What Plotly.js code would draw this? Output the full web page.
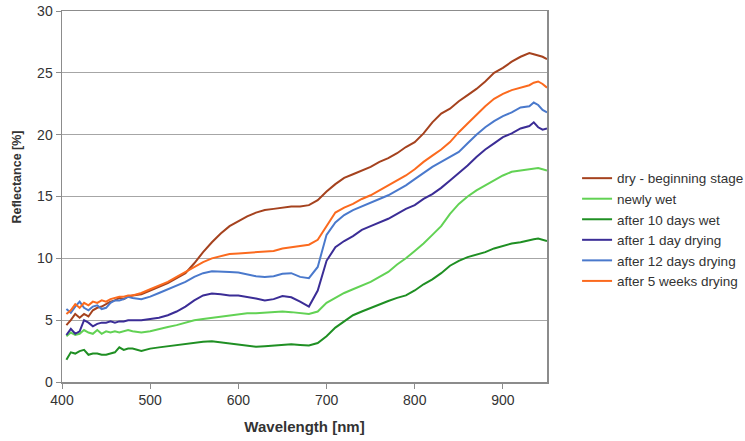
<!DOCTYPE html>
<html>
<head>
<meta charset="utf-8">
<script src="https://cdn.plot.ly/plotly-3.0.1.min.js"></script>
<style>html,body{margin:0;padding:0;background:#fff;}#chart{width:745px;height:441px;}</style>
</head>
<body>
<div id="chart"></div>
<script>
const wavelength = [405,410,415,420,425,430,435,440,445,450,455,460,465,470,475,
  480,490,500,510,520,530,540,550,560,570,580,590,600,610,620,630,640,650,660,670,680,690,
  700,710,720,730,740,750,760,770,780,790,800,810,820,830,840,850,860,870,880,890,900,910,920,930,
  935,940,945,950];

const dryBeginning = [4.6,5.0,5.5,5.2,5.5,5.3,5.8,6.0,6.1,6.3,6.5,6.6,6.8,6.7,6.9,
  7.0,7.1,7.4,7.7,8.0,8.4,8.8,9.6,10.5,11.3,12.0,12.6,13.0,13.4,13.7,13.9,14.0,14.1,14.2,14.2,14.3,14.7,
  15.4,16.0,16.5,16.8,17.1,17.4,17.8,18.1,18.5,19.0,19.4,20.1,21.0,21.7,22.1,22.7,23.2,23.7,24.3,25.0,25.4,25.9,26.3,26.6,
  26.5,26.4,26.3,26.1];

const newlyWet = [3.7,4.0,3.8,3.9,4.2,4.0,3.9,4.2,3.9,4.1,4.0,4.1,4.0,4.1,4.2,
  4.1,4.0,4.1,4.3,4.45,4.6,4.8,5.0,5.1,5.2,5.3,5.4,5.5,5.55,5.55,5.6,5.6,5.7,5.65,5.55,5.5,5.7,
  6.4,6.8,7.2,7.5,7.8,8.1,8.5,8.9,9.5,10.0,10.6,11.2,11.9,12.6,13.6,14.4,15.0,15.5,15.9,16.3,16.7,17.0,17.1,17.2,
  17.3,17.3,17.2,17.1];

const tenDaysWet = [1.8,2.4,2.3,2.5,2.6,2.2,2.3,2.3,2.2,2.2,2.3,2.4,2.8,2.6,2.7,
  2.7,2.5,2.7,2.8,2.9,3.0,3.1,3.2,3.25,3.3,3.2,3.1,3.0,2.9,2.85,2.9,2.95,3.0,3.05,3.0,2.95,3.15,
  3.7,4.4,4.9,5.4,5.7,6.0,6.3,6.55,6.8,7.0,7.4,7.9,8.3,8.8,9.4,9.8,10.1,10.3,10.5,10.8,11.0,11.2,11.3,11.5,
  11.55,11.6,11.5,11.4];

const oneDayDrying = [3.8,4.3,3.9,4.1,5.0,4.8,4.5,4.7,4.8,4.8,4.9,4.8,4.9,4.9,5.0,
  5.0,5.0,5.1,5.2,5.4,5.7,6.1,6.6,7.0,7.15,7.1,7.0,7.0,6.9,6.75,6.6,6.7,6.95,6.85,6.5,6.1,7.4,
  9.8,10.9,11.4,11.8,12.3,12.6,12.9,13.2,13.6,14.0,14.3,14.8,15.2,15.7,16.3,16.9,17.5,18.2,18.8,19.3,19.8,20.1,20.5,20.7,
  21.0,20.6,20.4,20.5];

const twelveDaysDrying = [5.9,5.6,6.1,6.5,6.0,5.8,6.1,6.2,5.9,6.0,6.4,6.6,6.6,6.7,6.9,
  6.8,6.7,6.9,7.2,7.5,7.8,8.1,8.5,8.8,8.95,8.95,8.9,8.85,8.7,8.55,8.5,8.55,8.75,8.8,8.5,8.4,9.3,
  11.9,12.9,13.5,13.9,14.2,14.5,14.8,15.1,15.5,15.9,16.4,16.9,17.4,17.8,18.2,18.6,19.3,20.0,20.6,21.1,21.5,21.8,22.2,22.3,
  22.6,22.4,22.0,21.8];

const fiveWeeksDrying = [5.5,5.8,6.3,6.0,6.4,6.2,6.5,6.4,6.6,6.5,6.7,6.8,6.9,6.9,7.0,
  7.0,7.2,7.5,7.8,8.1,8.5,8.9,9.3,9.7,10.0,10.2,10.35,10.4,10.45,10.5,10.5,10.6,10.8,10.9,11.0,11.1,11.5,
  12.6,13.7,14.1,14.4,14.8,15.1,15.5,15.9,16.3,16.7,17.2,17.8,18.3,18.8,19.4,20.2,20.9,21.6,22.3,22.9,23.3,23.6,23.8,24.0,
  24.2,24.3,24.1,23.8];

const seriesNames = ["dry - beginning stage","newly wet","after 10 days wet","after 1 day drying","after 12 days drying","after 5 weeks drying"];
const seriesValues = [dryBeginning,newlyWet,tenDaysWet,oneDayDrying,twelveDaysDrying,fiveWeeksDrying];
const seriesColors = ["#a5421e","#62d254","#1f8f23","#3b2d96","#4a79cc","#fb6a1e"];

const xTicks = [400,500,600,700,800,900];
const yTicks = [0,5,10,15,20,25,30];

const traces = seriesNames.map((n,i)=>({
  x: wavelength, y: seriesValues[i], name: n, type: 'scatter', mode: 'lines',
  line: {color: seriesColors[i], width: 2}
}));

const layout = {
  width: 745, height: 441,
  margin: {l: 62, r: 198, t: 11, b: 59, autoexpand: false},
  paper_bgcolor: '#fff', plot_bgcolor: '#fff',
  font: {family: 'Liberation Sans, Arial, sans-serif', color: '#333'},
  showlegend: true,
  legend: {x: 1.062, y: 0.41, xanchor: 'left', yanchor: 'middle', font: {size: 13.5, color: '#333'}, bgcolor: 'rgba(0,0,0,0)'},
  xaxis: {
    range: [400, 950], tickvals: xTicks, ticktext: xTicks.map(String),
    showline: true, linecolor: '#8c8c8c', linewidth: 1.5, mirror: true,
    ticks: 'outside', ticklen: 5, tickcolor: '#8c8c8c',
    showgrid: false, zeroline: false,
    tickfont: {size: 14, color: '#333'},
    title: {text: '<b>Wavelength [nm]</b>', font: {size: 15, color: '#333'}, standoff: 14}
  },
  yaxis: {
    range: [0, 30], tickvals: yTicks, ticktext: yTicks.map(String),
    showline: true, linecolor: '#8c8c8c', linewidth: 1.5, mirror: true,
    ticks: 'outside', ticklen: 5, tickcolor: '#8c8c8c',
    showgrid: true, gridcolor: '#a6a6a6', gridwidth: 1, zeroline: false,
    tickfont: {size: 14, color: '#333'}
  },
  annotations: [{
    text: '<b>Reflectance [%]</b>', textangle: -90, showarrow: false,
    xref: 'paper', yref: 'paper', x: -0.092, y: 0.552, xanchor: 'center', yanchor: 'middle',
    font: {size: 12.5, color: '#333'}
  }]
};

Plotly.newPlot('chart', traces, layout, {displayModeBar: false, staticPlot: true});
</script>
</body>
</html>
